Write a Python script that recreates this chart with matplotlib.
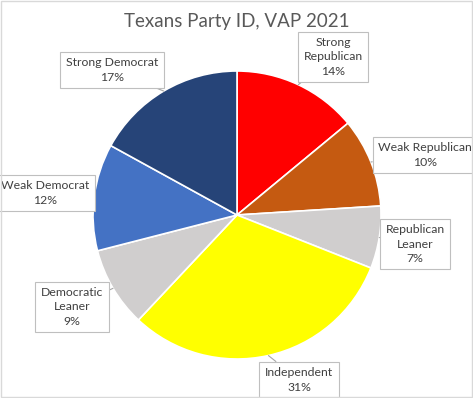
import numpy as np
import matplotlib
matplotlib.use("Agg")
import matplotlib.pyplot as plt

categories = ["Strong\nRepublican", "Weak Republican", "Republican\nLeaner", "Independent",
              "Democratic\nLeaner", "Weak Democrat", "Strong Democrat"]
shares = [14, 10, 7, 31, 9, 12, 17]
colors = ["#FF0000", "#C55A11", "#D0CECE", "#FFFF00", "#D0CECE", "#4472C4", "#264478"]

# label box centres in pixel coords (x from left, y from top)
label_pos = [(333, 57), (425, 155), (415, 244), (299, 380), (72, 307), (45, 193), (112, 70)]

W, H = 473, 398
fig = plt.figure(figsize=(W / 100, H / 100), dpi=100)
ax = fig.add_axes([0, 0, 1, 1])

cx, cy, r = 237, H - 215, 144
ax.pie(shares, colors=colors, startangle=90, counterclock=False,
       center=(cx, cy), radius=r, frame=True,
       wedgeprops=dict(edgecolor="white", linewidth=1.2))
ax.set_xlim(0, W)
ax.set_ylim(0, H)
ax.set_aspect("equal")
ax.axis("off")

total = sum(shares)
start = 90.0
for lab, val, (lx, ly) in zip(categories, shares, label_pos):
    span = 360.0 * val / total
    mid = np.deg2rad(start - span / 2)
    start -= span
    px, py = cx + r * np.cos(mid), cy + r * np.sin(mid)
    ax.annotate(f"{lab}\n{round(100 * val / total)}%", xy=(px, py), xytext=(lx, H - ly),
                ha="center", va="center", fontsize=8.8, color="#404040",
                family="Lato", linespacing=1.35,
                bbox=dict(boxstyle="square,pad=0.45", fc="white", ec="#BFBFBF", lw=0.8),
                arrowprops=dict(arrowstyle="-", color="#A6A6A6", lw=0.8, shrinkA=0, shrinkB=0))

fig.text(0.5, 1 - 21 / H, "Texans Party ID, VAP 2021", ha="center", va="center",
         fontsize=13.5, color="#595959", family="Lato")

# outer chart border
fig.patches.append(plt.Rectangle((0.002, 0.002), 0.996, 0.996, transform=fig.transFigure,
                                 fill=False, ec="#D9D9D9", lw=1))

fig.savefig("out.png", dpi=100)
